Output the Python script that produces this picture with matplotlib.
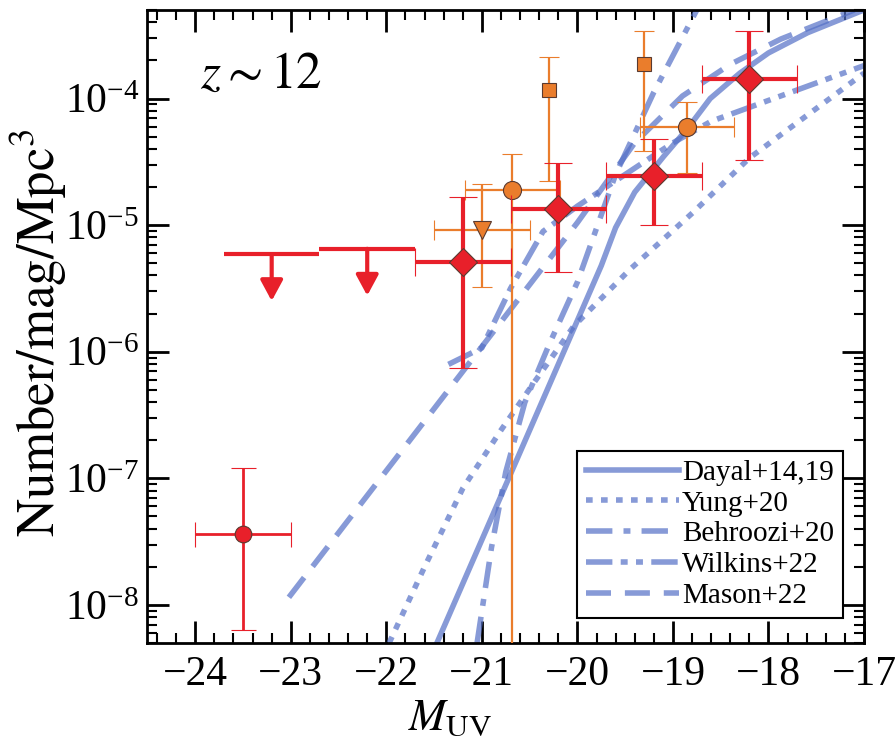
import numpy as np
import matplotlib
matplotlib.use("Agg")
import matplotlib.pyplot as plt
from matplotlib.ticker import MultipleLocator, LogLocator, NullFormatter

plt.rcParams['font.family'] = ['Liberation Serif', 'DejaVu Serif']
plt.rcParams['mathtext.fontset'] = 'stix'

# model curves: M_UV and log10(phi)
dayal_m = [-21.47, -20.5, -19.75, -19.6, -19.4, -19.1, -18.84, -18.61, -18.3, -18.0, -17.59, -17.0]
dayal_logphi = [-8.30, -6.62, -5.32, -5.02, -4.74, -4.46, -4.23, -4.00, -3.80, -3.64, -3.48, -3.30]

yung_m = [-21.97, -21.6, -21.2, -20.8, -20.46, -20.04, -19.45, -18.79, -18.2, -17.0]
yung_logphi = [-8.30, -7.70, -7.08, -6.62, -6.25, -5.80, -5.35, -4.90, -4.47, -3.80]

behroozi_m = [-21.05, -20.9, -20.75, -20.55, -20.3, -20.0, -19.6, -19.2, -18.75]
behroozi_logphi = [-8.30, -7.55, -6.95, -6.40, -5.95, -5.45, -4.60, -3.95, -3.30]

wilkins_m = [-21.35, -21.0, -20.7, -20.36, -20.0, -19.5, -19.0, -18.6, -17.0]
wilkins_logphi = [-6.10, -5.97, -5.50, -5.05, -4.85, -4.60, -4.35, -4.18, -3.74]

mason_m = [-23.02, -20.0, -19.4, -18.9, -18.4, -17.87, -17.1]
mason_logphi = [-7.94, -4.98, -4.35, -3.98, -3.73, -3.53, -3.30]

# this work (red diamonds)
dia_m = [-21.2, -20.2, -19.2, -18.2]
dia_phi = [5.1e-6, 1.33e-5, 2.44e-5, 1.43e-4]
dia_hi = [1.66e-5, 3.07e-5, 4.8e-5, 3.4e-4]
dia_lo = [7.4e-7, 4.23e-6, 1.0e-5, 3.26e-5]
dia_dm = [0.5, 0.5, 0.5, 0.5]

# bright point (red circle)
rc_m = [-23.5]
rc_phi = [3.6e-8]
rc_hi = [1.21e-7]
rc_lo = [6.3e-9]
rc_dm = [0.5]

# upper limits
ul_m = [-23.2, -22.2]
ul_phi = [5.9e-6, 6.5e-6]
ul_dm = [0.5, 0.5]

# other works (orange)
oc_m = [-20.68, -18.85]
oc_phi = [1.88e-5, 5.94e-5]
oc_hi = [3.66e-5, 9.35e-5]
oc_lo = [1e-12, 2.57e-5]
oc_dm = [0.5, 0.49]

ot_m = [-21.0]
ot_phi = [9.2e-6]
ot_hi = [2.1e-5]
ot_lo = [3.27e-6]
ot_dm = [0.5]

os_m = [-20.3, -19.3]
os_phi = [1.16e-4, 1.89e-4]
os_hi = [2.12e-4, 3.44e-4]
os_lo = [2.22e-5, 3.84e-5]

red = '#E8202A'
orange = '#EA7D2C'
blue = '#5470C6'
edge = '#5a3a30'

fig = plt.figure(figsize=(8.96, 7.38), dpi=100)
ax = fig.add_axes([0.1646, 0.1287, 0.7997, 0.8577])

lw = 4
models = [
    (dayal_m, dayal_logphi, 'Dayal+14,19', '-'),
    (yung_m, yung_logphi, 'Yung+20', (0, (1.2, 1.5))),
    (behroozi_m, behroozi_logphi, 'Behroozi+20', (0, (4.75, 2.0, 1.25, 2.0))),
    (wilkins_m, wilkins_logphi, 'Wilkins+22', (0, (4.75, 1.5, 1.25, 1.5, 1.25, 1.5))),
    (mason_m, mason_logphi, 'Mason+22', (0, (4.5, 2.5))),
]
for m, lp, lab, ls in models:
    ax.plot(m, 10 ** np.array(lp), color=blue, alpha=0.7, lw=lw, ls=ls, label=lab, zorder=2)

def yerr(phi, lo, hi):
    phi = np.array(phi)
    return [phi - np.array(lo), np.array(hi) - phi]

# orange points
ax.errorbar(oc_m, oc_phi, xerr=oc_dm, yerr=yerr(oc_phi, oc_lo, oc_hi), fmt='o', ms=13,
            color=orange, mfc=orange, mec=edge, mew=0.8, elinewidth=1.6, capsize=7, capthick=1.6, zorder=4)
ax.errorbar(ot_m, ot_phi, xerr=ot_dm, yerr=yerr(ot_phi, ot_lo, ot_hi), fmt='v', ms=13,
            color=orange, mfc=orange, mec=edge, mew=0.8, elinewidth=1.6, capsize=7, capthick=1.6, zorder=4)
ax.errorbar(os_m, os_phi, yerr=yerr(os_phi, os_lo, os_hi), fmt='s', ms=10.5,
            color=orange, mfc=orange, mec=edge, mew=0.8, elinewidth=1.6, capsize=7, capthick=1.6, zorder=4)

# red points
ax.errorbar(dia_m, dia_phi, xerr=dia_dm, yerr=yerr(dia_phi, dia_lo, dia_hi), fmt='D', ms=14,
            color=red, mfc=red, mec=edge, mew=0.8, elinewidth=3, capsize=10, capthick=3, zorder=5)
ax.errorbar(rc_m, rc_phi, xerr=rc_dm, yerr=yerr(rc_phi, rc_lo, rc_hi), fmt='o', ms=12,
            color=red, mfc=red, mec=edge, mew=0.8, elinewidth=2, capsize=9, capthick=2, zorder=5)

# upper limits
ax.errorbar(ul_m, ul_phi, xerr=ul_dm, fmt='none', ecolor=red, elinewidth=3, capsize=0, zorder=5)
for m, p in zip(ul_m, ul_phi):
    ax.annotate('', xy=(m, p * 10 ** -0.37), xytext=(m, p),
                arrowprops=dict(arrowstyle='-|>,head_length=0.5,head_width=0.27', color=red,
                                lw=3, mutation_scale=25, shrinkA=0, shrinkB=0), zorder=5)

ax.set_yscale('log')
ax.set_xlim(-24.5, -17)
ax.set_ylim(5e-9, 5e-4)

ax.xaxis.set_major_locator(MultipleLocator(1))
ax.xaxis.set_minor_locator(MultipleLocator(0.2))
ax.yaxis.set_major_locator(LogLocator(base=10, numticks=20))
ax.yaxis.set_minor_locator(LogLocator(base=10, subs=np.arange(2, 10), numticks=20))
ax.yaxis.set_minor_formatter(NullFormatter())

ax.tick_params(which='both', direction='in', top=True, right=True, labelsize=30, colors='black')
ax.tick_params(which='major', length=16, width=2)
ax.tick_params(which='minor', length=7, width=1.5)
ax.tick_params(axis='x', pad=9)
ax.tick_params(axis='y', pad=6)
for s in ax.spines.values():
    s.set_linewidth(2)

ax.set_xlabel(r'$M_{\rm UV}$', fontsize=32, va='baseline')
ax.xaxis.set_label_coords(0.422, -0.137, transform=ax.transAxes)
ax.set_ylabel(r'$\mathrm{Number/mag/Mpc^3}$', fontsize=38, va='center')
ax.yaxis.set_label_coords(-0.152, 0.49, transform=ax.transAxes)

ax.text(0.073, 0.877, r'$z \sim 12$', transform=ax.transAxes, fontsize=37, ha='left', va='baseline')

leg = ax.legend(loc='lower right', bbox_to_anchor=(0.97, 0.04), fontsize=21, frameon=True,
                fancybox=False, edgecolor='black', framealpha=1, handlelength=3.2,
                handletextpad=0.1, labelspacing=0.15, borderpad=0.3, borderaxespad=0)
leg.get_frame().set_linewidth(1.5)

fig.savefig('out.png', dpi=100)
